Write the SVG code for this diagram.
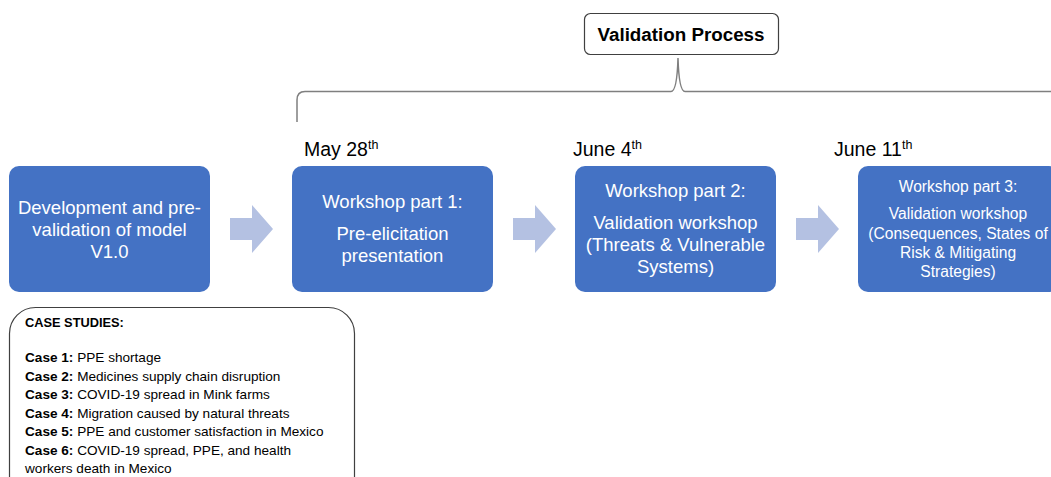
<svg xmlns="http://www.w3.org/2000/svg" width="1051" height="477" viewBox="0 0 1051 477">
  <style>
    .step { fill: #4472C4; }
    .step-text { fill: #ffffff; font-family: "Liberation Sans", Arial, sans-serif; font-size: 18.5px; text-anchor: middle; }
    .step-text.small { font-size: 15.6px; }
    .date { fill: #000000; font-family: "Liberation Sans", Arial, sans-serif; font-size: 19.5px; }
    .date tspan.sup { font-size: 12.5px; }
    .arrow { fill: #B4C1E2; }
    .brace { fill: none; stroke: #7f7f7f; stroke-width: 1.5; }
    .title-box { fill: #ffffff; stroke: #404040; stroke-width: 1.2; }
    .title-text { font-family: "Liberation Sans", Arial, sans-serif; font-size: 18.8px; font-weight: bold; text-anchor: middle; fill: #000; }
    .cases-box { fill: #ffffff; stroke: #404040; stroke-width: 1.2; }
    .cases-text { font-family: "Liberation Sans", Arial, sans-serif; font-size: 13.6px; fill: #000; }
    .cases-text .b { font-weight: bold; }
    .cases-text .h { font-weight: bold; font-size: 12.8px; }
  </style>

  <!-- Heading -->
  <g id="validation-process">
    <rect class="title-box" x="584.5" y="13.5" width="194" height="41" rx="6"/>
    <text class="title-text" x="681" y="40.5">Validation Process</text>
  </g>

  <!-- Brace spanning the workshop phases -->
  <g id="brace">
    <path class="brace" d="M297,122 L297,100 Q297,91.5 305,91.5 L671,91.5 Q677,91.5 678,58 Q679,91.5 685,91.5 L1051,91.5"/>
  </g>

  <!-- Dates -->
  <g id="dates">
    <text class="date" x="304" y="156">May 28<tspan class="sup" dy="-7">th</tspan></text>
    <text class="date" x="573" y="156">June 4<tspan class="sup" dy="-7">th</tspan></text>
    <text class="date" x="834" y="156">June 11<tspan class="sup" dy="-7">th</tspan></text>
  </g>

  <!-- Process steps -->
  <g id="step-development">
    <rect class="step" x="9" y="166" width="201" height="126" rx="10"/>
    <text class="step-text" x="109.5" y="214">Development and pre-</text>
    <text class="step-text" x="109.5" y="236">validation of model</text>
    <text class="step-text" x="109.5" y="258">V1.0</text>
  </g>

  <g id="step-workshop-1">
    <rect class="step" x="292" y="166" width="201" height="126" rx="10"/>
    <text class="step-text" x="392.5" y="208">Workshop part 1:</text>
    <text class="step-text" x="392.5" y="240">Pre-elicitation</text>
    <text class="step-text" x="392.5" y="262">presentation</text>
  </g>

  <g id="step-workshop-2">
    <rect class="step" x="575" y="166" width="201" height="126" rx="10"/>
    <text class="step-text" x="675.5" y="197">Workshop part 2:</text>
    <text class="step-text" x="675.5" y="229">Validation workshop</text>
    <text class="step-text" x="675.5" y="251">(Threats &amp; Vulnerable</text>
    <text class="step-text" x="675.5" y="273">Systems)</text>
  </g>

  <g id="step-workshop-3">
    <rect class="step" x="858" y="166" width="201" height="126" rx="10"/>
    <text class="step-text small" x="958" y="192">Workshop part 3:</text>
    <text class="step-text small" x="958" y="219">Validation workshop</text>
    <text class="step-text small" x="958" y="239">(Consequences, States of</text>
    <text class="step-text small" x="958" y="258">Risk &amp; Mitigating</text>
    <text class="step-text small" x="958" y="277">Strategies)</text>
  </g>

  <!-- Block arrows between steps -->
  <g id="connectors">
    <path class="arrow" d="M230,218 L252,218 L252,205 L273,229 L252,253 L252,240 L230,240 Z"/>
    <path class="arrow" d="M513,218 L535,218 L535,205 L556,229 L535,253 L535,240 L513,240 Z"/>
    <path class="arrow" d="M796,218 L818,218 L818,205 L839,229 L818,253 L818,240 L796,240 Z"/>
  </g>

  <!-- Case studies panel -->
  <g id="case-studies">
    <rect class="cases-box" x="9.5" y="307.5" width="345" height="200" rx="26"/>
    <text class="cases-text" x="25" y="327"><tspan class="h">CASE STUDIES:</tspan></text>
    <text class="cases-text" x="25" y="362"><tspan class="b">Case 1:</tspan> PPE shortage</text>
    <text class="cases-text" x="25" y="380.5"><tspan class="b">Case 2:</tspan> Medicines supply chain disruption</text>
    <text class="cases-text" x="25" y="399"><tspan class="b">Case 3:</tspan> COVID-19 spread in Mink farms</text>
    <text class="cases-text" x="25" y="417.5"><tspan class="b">Case 4:</tspan> Migration caused by natural threats</text>
    <text class="cases-text" x="25" y="436"><tspan class="b">Case 5:</tspan> PPE and customer satisfaction in Mexico</text>
    <text class="cases-text" x="25" y="454.5"><tspan class="b">Case 6:</tspan> COVID-19 spread, PPE, and health</text>
    <text class="cases-text" x="25" y="473">workers death in Mexico</text>
  </g>
</svg>
